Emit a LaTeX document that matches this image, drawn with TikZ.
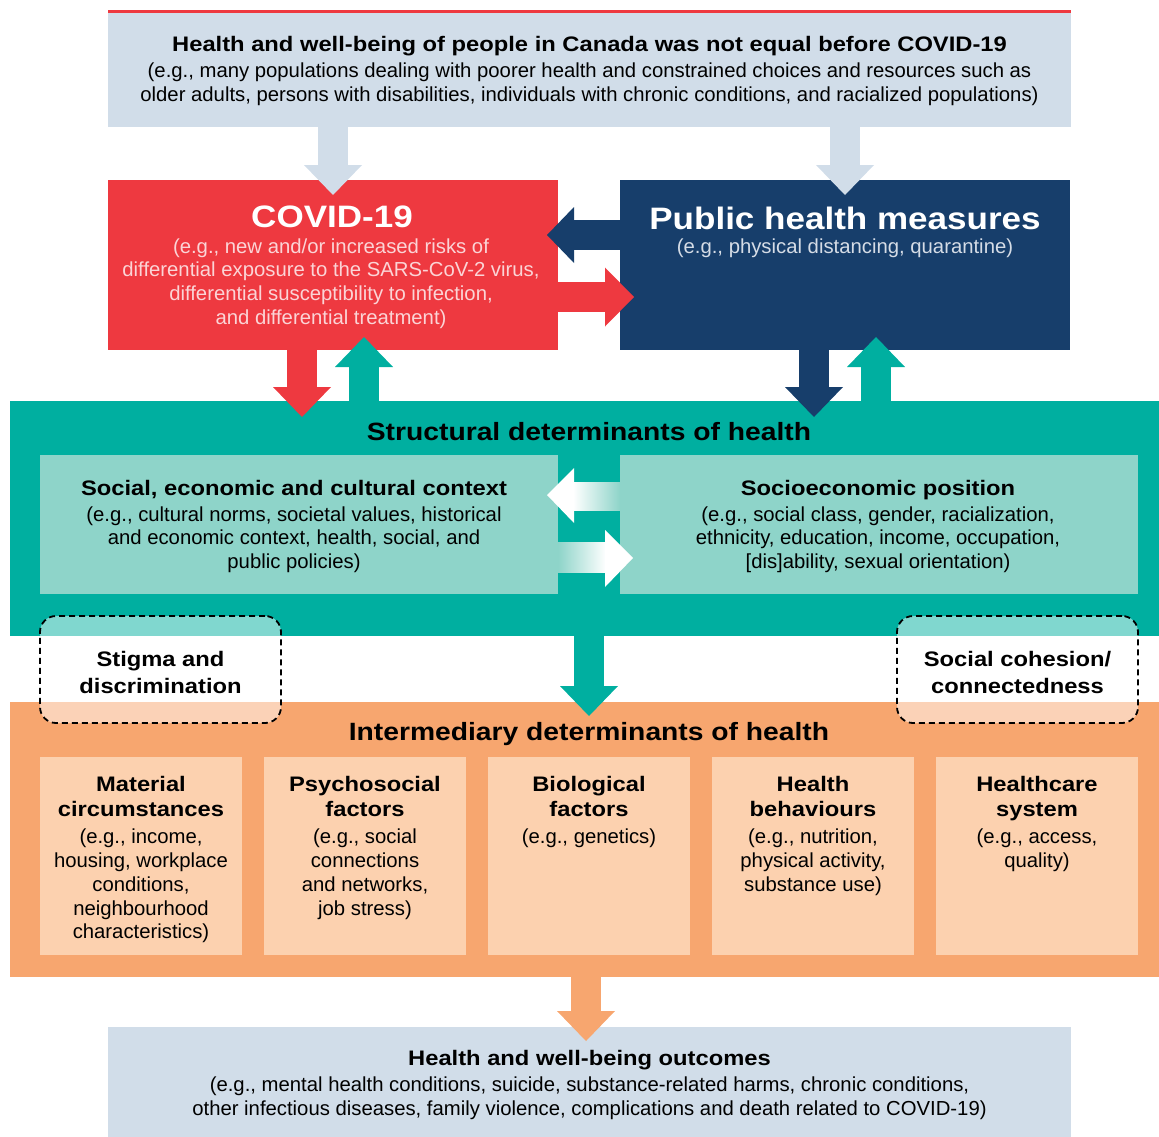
\documentclass[tikz,border=0pt]{standalone}
\usepackage{fontspec}
\setmainfont{Liberation Sans}
\newfontfamily\hdfont{Liberation Sans Bold}[FakeStretch=1.13]
\usepackage{tikz}
\usetikzlibrary{arrows.meta, calc, positioning}
\definecolor{paleblue}{HTML}{D1DDE9}
\definecolor{covidred}{HTML}{EE3940}
\definecolor{navy}{HTML}{173E6B}
\definecolor{sdteal}{HTML}{00AFA0}
\definecolor{lightteal}{HTML}{8ED4C9}
\definecolor{idorange}{HTML}{F7A66F}
\definecolor{peach}{HTML}{FCD1AF}
\definecolor{pinktext}{HTML}{FBD4D6}
\definecolor{greytext}{HTML}{D5DCE6}
\tikzstyle{panel} = [rectangle, inner sep=0pt, outer sep=0pt, anchor=north west]
\tikzstyle{factor} = [panel, fill=peach, minimum width=202pt, minimum height=198pt]
\tikzstyle{dashbox} = [panel, rounded corners=16pt, draw=black, dash pattern=on 6pt off 4pt, line width=1.8pt, fill=white, fill opacity=0.5, minimum width=241pt, minimum height=107pt]
\tikzstyle{fat} = [line width=30pt, -{Triangle[width=58pt,length=30pt,line width=0pt]}]
\tikzstyle{heading} = [inner sep=0pt, align=center, font=\hdfont\fontsize{21}{25}\selectfont]
\tikzstyle{bigheading} = [heading, font=\hdfont\fontsize{31}{36}\selectfont, text=white]
\tikzstyle{bandheading} = [heading, font=\hdfont\fontsize{25}{30}\selectfont]
\tikzstyle{example} = [inner sep=0pt, align=center, font=\fontsize{20.3}{23.75}\selectfont]

\begin{document}
\begin{tikzpicture}[x=1pt, y=-1pt]
\useasboundingbox (0,0) rectangle (1159,1137);
% boxes
\node (before) [panel, fill=paleblue, minimum width=963pt, minimum height=115pt] at (108,12) {};
\draw [covidred, line width=3pt] (before.north west) -- (before.north east);
\node (covid) [panel, fill=covidred, minimum width=450pt, minimum height=170pt] at (108,180) {};
\node (ph) [panel, fill=navy, minimum width=450pt, minimum height=170pt, right=62pt of covid] {};
\node (struct) [panel, fill=sdteal, minimum width=1149pt, minimum height=235pt] at (10,401) {};
\node (secc) [panel, fill=lightteal, minimum width=518pt, minimum height=139pt] at (40,455) {};
\node (sep) [panel, fill=lightteal, minimum width=518pt, minimum height=139pt, right=62pt of secc] {};
\node (interm) [panel, fill=idorange, minimum width=1149pt, minimum height=275pt] at (10,702) {};
\node (mat) [factor] at (40,757) {};
\node (psy) [factor, right=22pt of mat] {};
\node (bio) [factor, right=22pt of psy] {};
\node (behav) [factor, right=22pt of bio] {};
\node (care) [factor, right=22pt of behav] {};
\node (outcomes) [panel, fill=paleblue, minimum width=963pt, minimum height=110pt] at (108,1027) {};
\node (stigma) [dashbox] at (40,616) {};
\node (cohesion) [dashbox] at (897,616) {};

% arrows
\draw [fat, paleblue] (before.south -| covid.north) -- ($(covid.north)+(0,15)$);
\draw [fat, paleblue] (before.south -| ph.north) -- ($(ph.north)+(0,15)$);
\draw [fat, navy, -{Triangle[width=56pt,length=27pt,line width=0pt]}] ($(ph.west)+(0,-30)$) -- ($(covid.east)+(-11,-30)$);
\draw [fat, covidred, -{Triangle[width=59pt,length=29pt,line width=0pt]}] ($(covid.east)+(0,32)$) -- ($(ph.west)+(14,32)$);
\draw [fat, covidred] ($(covid.south)+(-31,0)$) -- ($(covid.south)+(-31,67)$);
\draw [fat, sdteal] ($(covid.south)+(31,51)$) -- ($(covid.south)+(31,-13)$);
\draw [fat, navy] ($(ph.south)+(-31,0)$) -- ($(ph.south)+(-31,67)$);
\draw [fat, sdteal] ($(ph.south)+(31,51)$) -- ($(ph.south)+(31,-13)$);
\shade [left color=white, right color=lightteal] ($(secc.east)+(15,-42)$) rectangle ($(sep.west)+(0,-14)$);
\fill [white] ($(secc.east)+(-11,-29.5)$) -- ($(secc.east)+(16,-56.5)$) -- ($(secc.east)+(16,-1.5)$) -- cycle;
\shade [left color=lightteal, right color=white] ($(secc.east)+(0,17.5)$) rectangle ($(sep.west)+(-14,47.5)$);
\fill [white] ($(sep.west)+(13,33.5)$) -- ($(sep.west)+(-15,5.5)$) -- ($(sep.west)+(-15,62.5)$) -- cycle;
\draw [fat, sdteal] ($(struct.south)+(4.5,0)$) -- ($(interm.north)+(4.5,14)$);
\draw [fat, idorange] ($(interm.south)+(1.5,0)$) -- ($(outcomes.north)+(-3.5,14)$);

% texts
\node (beforett) [heading] at (589.5,46.5) {Health and well-being of people in Canada was not equal before COVID-19};
\node (beforeeg) [example] at (589.5,84) {(e.g., many populations dealing with poorer health and constrained choices and resources such as\\older adults, persons with disabilities, individuals with chronic conditions, and racialized populations)};
\node (covidtt) [bigheading] at (332,217) {COVID-19};
\node (covideg) [example, text=pinktext] at (331,283.5) {(e.g., new and/or increased risks of\\differential exposure to the SARS-CoV-2 virus,\\differential susceptibility to infection,\\and differential treatment)};
\node (phtt) [bigheading] at (845,218) {Public health measures};
\node (pheg) [example, text=greytext] at (845,248) {(e.g., physical distancing, quarantine)};
\node (structtt) [bandheading] at (589,431.5) {Structural determinants of health};
\node (secctt) [heading] at (294,490) {Social, economic and cultural context};
\node (secceg) [example] at (294,539.5) {(e.g., cultural norms, societal values, historical\\and economic context, health, social, and\\public policies)};
\node (septt) [heading] at (878,490) {Socioeconomic position};
\node (sepeg) [example] at (878,539.5) {(e.g., social class, gender, racialization,\\ethnicity, education, income, occupation,\\{}[dis]ability, sexual orientation)};
\node (stigmatt) [heading, font=\hdfont\fontsize{21}{27}\selectfont] at (160.5,672) {Stigma and\\discrimination};
\node (cohesiontt) [heading, font=\hdfont\fontsize{21}{27}\selectfont] at (1017.5,672) {Social cohesion/\\connectedness};
\node (intermtt) [bandheading] at (589,734.5) {Intermediary determinants of health};
\node (mattt) [heading, anchor=north] at (141,776) {Material\\circumstances};
\node (mateg) [example, anchor=north] at (141,829) {(e.g., income,\\housing, workplace\\conditions,\\neighbourhood\\characteristics)};
\node (psytt) [heading, anchor=north] at (365,776) {Psychosocial\\factors};
\node (psyeg) [example, anchor=north] at (365,829) {(e.g., social\\connections\\and networks,\\job stress)};
\node (biott) [heading, anchor=north] at (589,776) {Biological\\factors};
\node (bioeg) [example, anchor=north] at (589,829) {(e.g., genetics)};
\node (behavtt) [heading, anchor=north] at (813,776) {Health\\behaviours};
\node (behaveg) [example, anchor=north] at (813,829) {(e.g., nutrition,\\physical activity,\\substance use)};
\node (carett) [heading, anchor=north] at (1037,776) {Healthcare\\system};
\node (careeg) [example, anchor=north] at (1037,829) {(e.g., access,\\quality)};
\node (outcomestt) [heading] at (589.5,1060.5) {Health and well-being outcomes};
\node (outcomeseg) [example] at (589.5,1098.5) {(e.g., mental health conditions, suicide, substance-related harms, chronic conditions,\\other infectious diseases, family violence, complications and death related to COVID-19)};
\end{tikzpicture}
\end{document}
